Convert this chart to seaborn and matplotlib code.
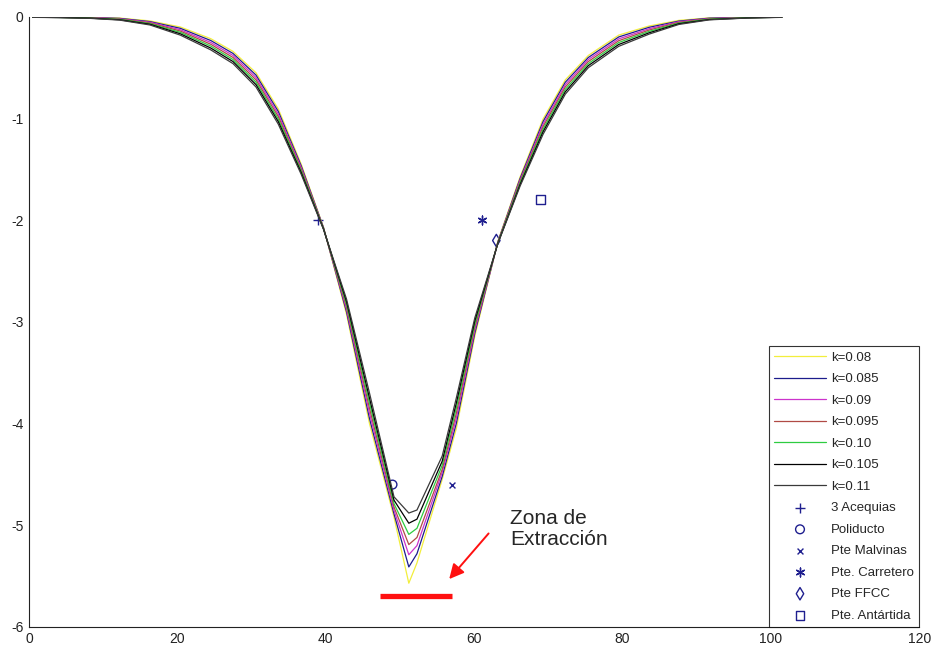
import matplotlib
matplotlib.use('Agg')
from matplotlib import pyplot as plt
import pandas as pd
import seaborn as sns

# distance along the profile and settlement curves for each k
x_pos = [0.5, 4.1, 8.2, 12.2, 16.3, 20.4, 24.5, 27.5, 30.6, 33.6, 36.7, 39.7,
         42.8, 45.9, 49.2, 51.2, 52.3, 55.7, 57.6, 60.1, 63.2, 66.2, 69.3,
         72.3, 75.4, 79.5, 83.6, 87.6, 91.7, 96.8, 101.5]

k080 = [-0.001, -0.002, -0.005, -0.012, -0.04, -0.10, -0.215, -0.34, -0.55,
        -0.905, -1.45, -2.07, -2.925, -4.00, -4.92, -5.57, -5.37, -4.55, -4.05,
        -3.14, -2.21, -1.575, -1.005, -0.62, -0.38, -0.18, -0.09, -0.035,
        -0.01, -0.004, -0.001]
k085 = [-0.002, -0.003, -0.007, -0.015, -0.047, -0.113, -0.233, -0.36, -0.573,
        -0.93, -1.467, -2.073, -2.90, -3.95, -4.887, -5.41, -5.28, -4.52, -4.00,
        -3.11, -2.215, -1.59, -1.03, -0.643, -0.40, -0.198, -0.103, -0.042,
        -0.013, -0.005, -0.002]
k090 = [-0.002, -0.004, -0.008, -0.019, -0.053, -0.127, -0.252, -0.38, -0.597,
        -0.955, -1.483, -2.077, -2.875, -3.90, -4.853, -5.29, -5.20, -4.48,
        -3.95, -3.08, -2.22, -1.605, -1.055, -0.667, -0.42, -0.217, -0.117,
        -0.048, -0.017, -0.007, -0.002]
k095 = [-0.003, -0.005, -0.010, -0.022, -0.06, -0.14, -0.27, -0.40, -0.62,
        -0.98, -1.50, -2.08, -2.85, -3.85, -4.82, -5.19, -5.12, -4.45, -3.90,
        -3.05, -2.22, -1.62, -1.08, -0.69, -0.44, -0.235, -0.13, -0.055,
        -0.02, -0.008, -0.003]
k100 = [-0.004, -0.006, -0.012, -0.025, -0.067, -0.153, -0.288, -0.42, -0.643,
        -1.005, -1.517, -2.083, -2.825, -3.80, -4.787, -5.09, -5.03, -4.41,
        -3.85, -3.02, -2.225, -1.635, -1.105, -0.713, -0.46, -0.253, -0.143,
        -0.062, -0.023, -0.009, -0.004]
k105 = [-0.004, -0.007, -0.013, -0.029, -0.073, -0.167, -0.307, -0.44, -0.667,
        -1.03, -1.533, -2.087, -2.80, -3.75, -4.753, -4.98, -4.94, -4.37, -3.80,
        -2.99, -2.23, -1.65, -1.13, -0.737, -0.48, -0.272, -0.157, -0.068,
        -0.027, -0.011, -0.004]
k110 = [-0.005, -0.008, -0.015, -0.032, -0.08, -0.18, -0.325, -0.46, -0.69,
        -1.055, -1.55, -2.09, -2.775, -3.70, -4.72, -4.88, -4.85, -4.32, -3.75,
        -2.96, -2.23, -1.665, -1.155, -0.76, -0.50, -0.29, -0.17, -0.075,
        -0.03, -0.012, -0.005]

k_labels = ['k=0.08', 'k=0.085', 'k=0.09', 'k=0.095', 'k=0.10', 'k=0.105',
            'k=0.11']
k_colors = ['#f2ee3c', '#1c1c8c', '#cc33cc', '#b04a45', '#2ecc40', '#000000',
            '#3a3a3a']

# measured points
pt_names = ['3 Acequias', 'Poliducto', 'Pte Malvinas', 'Pte. Carretero',
            'Pte FFCC', 'Pte. Antártida']
pt_x = [39, 49, 57, 61, 63, 69]
pt_y = [-2.0, -4.6, -4.6, -2.0, -2.2, -1.8]
pt_markers = ['+', 'o', 'x', (6, 2, 0), 'd', 's']
pt_sizes = [42, 40, 18, 40, 40, 40]

zone_x = [47.3, 57.0]
zone_y = [-5.7, -5.7]


def main():
  sns.set_style('white')
  plt.rcParams['font.family'] = ['Liberation Sans', 'DejaVu Sans']
  plt.rcParams['axes.unicode_minus'] = False

  fig = plt.figure(figsize=(9.36, 6.47), dpi=100)
  ax = fig.add_axes([0.031, 0.031, 0.951, 0.943])

  curves = [k080, k085, k090, k095, k100, k105, k110]
  for ys, lab, col in zip(curves, k_labels, k_colors):
    data = pd.DataFrame({'x': x_pos, 'y': ys})
    sns.lineplot(data=data, x='x', y='y', color=col, lw=0.9, label=lab,
                 sort=False, estimator=None, ax=ax)

  navy = '#1f1f8f'
  for name, px, py, mk, sz in zip(pt_names, pt_x, pt_y, pt_markers, pt_sizes):
    if mk in ('o', 'd', 's'):
      sns.scatterplot(x=[px], y=[py], marker=mk, s=sz, color='none',
                      edgecolor=navy, linewidth=1.0, label=name, ax=ax)
    else:
      sns.scatterplot(x=[px], y=[py], marker=mk, s=sz, color=navy,
                      linewidth=1.0, label=name, ax=ax)

  ax.plot(zone_x, zone_y, color='#ff1010', lw=3.8, solid_capstyle='butt')
  ax.annotate('', xy=(56.4, -5.55), xytext=(62.2, -5.06),
              arrowprops=dict(arrowstyle='-|>', color='#ff1010', lw=1.4,
                              mutation_scale=22))
  ax.text(64.9, -4.84, 'Zona de\nExtracción', fontsize=15, ha='left',
          va='top', linespacing=1.15)

  ax.set_xlim(0, 120)
  ax.set_ylim(-6, 0)
  ax.set_xticks(range(0, 121, 20))
  ax.set_yticks(range(-6, 1))
  ax.set_xlabel('')
  ax.set_ylabel('')
  ax.tick_params(direction='in', length=6, width=0.8, labelsize=10,
                 colors='#222222', pad=4)
  sns.despine(ax=ax, top=True, right=True)
  for side in ('left', 'bottom'):
    ax.spines[side].set_color('#222222')
    ax.spines[side].set_linewidth(0.8)

  leg = ax.legend(loc='lower right', bbox_to_anchor=(1.0, 0.0),
                  borderaxespad=0, fontsize=9.5, handlelength=3.9,
                  handletextpad=0.4, labelspacing=0.7, frameon=True,
                  fancybox=False, borderpad=0.4)
  leg.get_frame().set_edgecolor('black')
  leg.get_frame().set_linewidth(0.8)

  fig.savefig('out.png', dpi=100)
  plt.close('all')


if __name__ == '__main__':
  main()
